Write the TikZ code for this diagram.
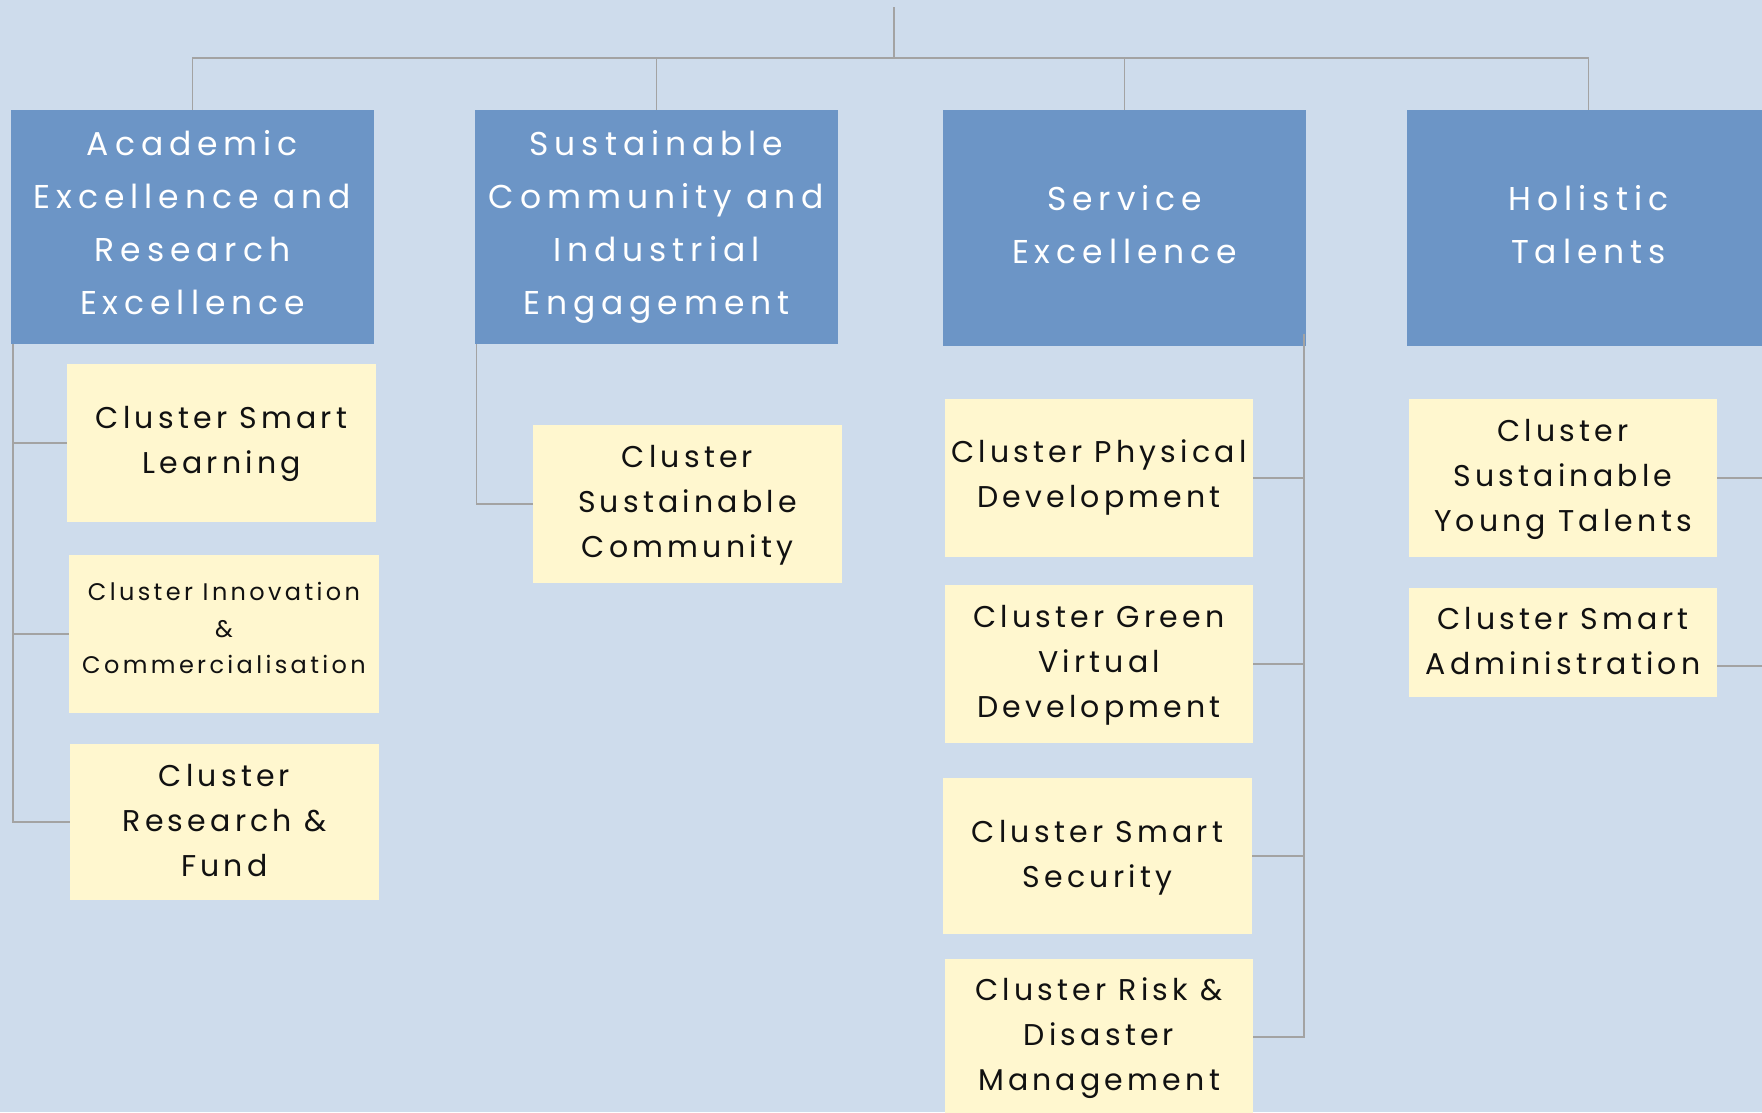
\documentclass[tikz,border=0pt]{standalone}
\usepackage{fontspec}
\setmainfont{Poppins}
\newfontfamily\bluefont[LetterSpace=18]{Poppins}
\newfontfamily\yelfont[LetterSpace=14]{Poppins}
\definecolor{bgc}{HTML}{CEDCEC}
\definecolor{bluec}{HTML}{6C95C6}
\definecolor{yelc}{HTML}{FFF7CF}
\definecolor{linec}{HTML}{A3A3A3}
\definecolor{txtc}{HTML}{111111}
% stacked centred lines; #1 = extra space below (raises text by half of it)
\newcommand\tlines[2]{\vbox{\hbox{\begin{tabular}{@{}c@{}}#2\end{tabular}}\kern#1}}
\begin{document}
\begin{tikzpicture}[x=1pt,y=-1pt,
  bluebox/.style={fill=bluec, draw=none, inner sep=0pt, text=white,
    minimum width=363pt, font=\bluefont\fontsize{33}{53}\selectfont},
  yelbox/.style={fill=yelc, draw=none, inner sep=0pt, text=txtc,
    minimum width=309pt, font=\yelfont\fontsize{30}{45}\selectfont},
  conn/.style={draw=linec, line width=1.8pt}]
\path[use as bounding box, fill=bgc] (0,0) rectangle (1762,1112);
\clip (0,0) rectangle (1762,1112);

% top-level boxes
\node[bluebox, minimum height=234pt] (A) at (192.5,227) {\tlines{6pt}{Academic\\Excellence and\\Research\\Excellence}};
\node[bluebox, minimum height=234pt] (S) at (656.5,227) {\tlines{6pt}{Sustainable\\Community and\\Industrial\\Engagement}};
\node[bluebox, minimum height=236pt] (V) at (1124.5,228) {\tlines{4pt}{Service\\Excellence}};
\node[bluebox, minimum height=236pt] (H) at (1588.5,228) {\tlines{4pt}{Holistic\\Talents}};

% clusters
\node[yelbox, minimum height=158pt] (SL) at (221.5,443) {\tlines{2pt}{Cluster Smart\\Learning}};
\node[yelbox, minimum width=310pt, minimum height=158pt, font=\yelfont\fontsize{24}{36.5}\selectfont] (IC) at (224,634) {\tlines{8pt}{Cluster Innovation\\\&\\Commercialisation}};
\node[yelbox, minimum height=156pt] (RF) at (224.5,822) {\tlines{0pt}{Cluster\\Research \&\\Fund}};
\node[yelbox, minimum height=158pt] (SC) at (687.5,504) {\tlines{2pt}{Cluster\\Sustainable\\Community}};
\node[yelbox, minimum width=308pt, minimum height=158pt] (PD) at (1099,478) {\tlines{5pt}{Cluster Physical\\Development}};
\node[yelbox, minimum width=308pt, minimum height=158pt] (GV) at (1099,664) {\tlines{2pt}{Cluster Green\\Virtual\\Development}};
\node[yelbox, minimum height=156pt] (SS) at (1097.5,856) {\tlines{1pt}{Cluster Smart\\Security}};
\node[yelbox, minimum width=308pt, minimum height=156pt] (RD) at (1099,1037) {\tlines{2pt}{Cluster Risk \&\\Disaster\\Management}};
\node[yelbox, minimum width=308pt, minimum height=158pt] (YT) at (1563,478) {\tlines{2pt}{Cluster\\Sustainable\\Young Talents}};
\node[yelbox, minimum width=308pt, minimum height=109pt] (SA) at (1563,642.5) {\tlines{0pt}{Cluster Smart\\Administration}};

% connectors
\coordinate (top) at (894,7);
\coordinate (bus) at (894,58);
\draw[conn] (top) -- (bus);
\draw[conn] (A.north) |- (bus);
\draw[conn] (S.north) |- (bus);
\draw[conn] (V.north) |- (bus);
\draw[conn] (H.north) |- (bus);

\coordinate (aL) at (13,344);
\draw[conn] (aL) |- (RF.west);
\draw[conn] (SL.west) -- (SL.west -| aL);
\draw[conn] (IC.west) -- (IC.west -| aL);

\coordinate (sL) at (476.5,344);
\draw[conn] (sL) |- (SC.west);

\coordinate (vR) at (1304,334);
\draw[conn] (vR) |- (RD.east);
\draw[conn] (PD.east) -- (PD.east -| vR);
\draw[conn] (GV.east) -- (GV.east -| vR);
\draw[conn] (SS.east) -- (SS.east -| vR);

\coordinate (hR) at (1775,478);
\draw[conn] (YT.east) -- (hR);
\coordinate (hR2) at (1775,666);
\draw[conn] (SA.east |- hR2) -- (hR2);
\end{tikzpicture}
\end{document}
